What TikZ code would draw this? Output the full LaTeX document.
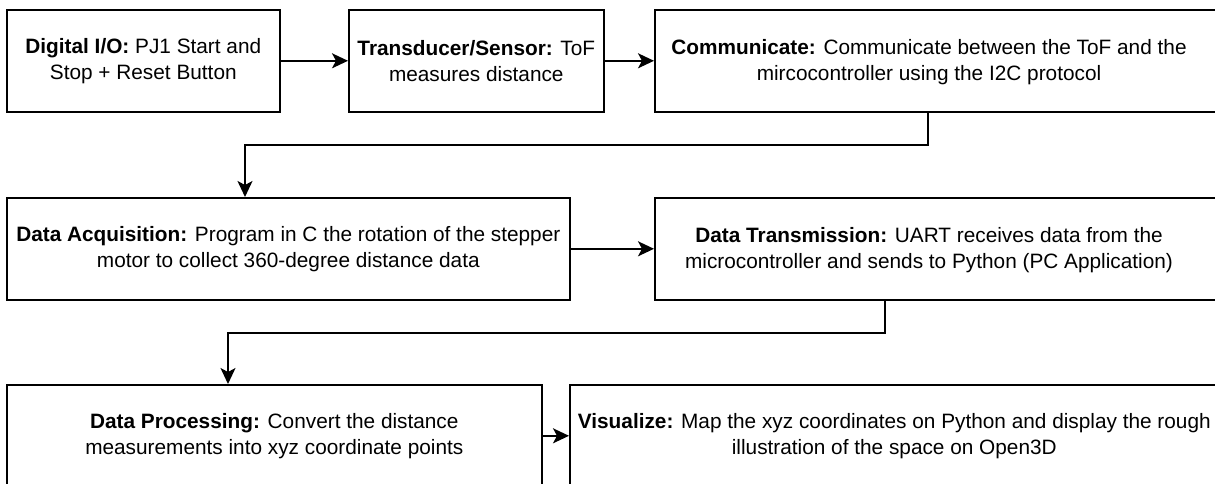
\documentclass[tikz,border=0pt]{standalone}
\usepackage{fontspec}
\setmainfont{Liberation Sans}
\usetikzlibrary{arrows.meta}
\begin{document}
\begin{tikzpicture}[x=1pt,y=-1pt,
  box/.style={draw=black, line width=1.6pt, rectangle, minimum height=102pt, inner sep=0pt, anchor=north west, align=center, font=\fontsize{20.8}{26}\selectfont},
  txt/.style={align=center, inner sep=0pt, font=\fontsize{20.8}{26}\selectfont},
  arr/.style={draw=black, line width=1.6pt, -{Stealth[length=16pt,width=15pt,inset=4pt]}}]
\useasboundingbox (0,0) rectangle (1215,484);
\clip (0,0) rectangle (1215,484);
\node[box, minimum width=273pt] (b1) at (6,9) {\textbf{Digital I/O:} PJ1 Start and\\Stop + Reset Button};
\node[box, minimum width=255pt] (b2) at (348,9) {\textbf{Transducer/Sensor:} ToF\\measures distance};
\node[box, minimum width=570pt] (b3) at (654,9) {};
\node[txt] (t3) at (929,62) {\textbf{Communicate:} Communicate between the ToF and the\\mircocontroller using the I2C protocol};
\node[box, minimum width=563pt] (b4) at (6,197) {\textbf{Data Acquisition:} Program in C the rotation of the stepper\\motor to collect 360-degree distance data};
\node[box, minimum width=570pt] (b5) at (654,197) {};
\node[txt] (t5) at (929,250) {\textbf{Data Transmission:} UART receives data from the\\microcontroller and sends to Python (PC Application)};
\node[box, minimum width=535pt] (b6) at (6,384) {\textbf{Data Processing:} Convert the distance\\measurements into xyz coordinate points};
\node[box, minimum width=649pt] (b7) at (569,384) {\textbf{Visualize:} Map the xyz coordinates on Python and display the rough\\illustration of the space on Open3D};
\coordinate (k1) at (928,145);
\coordinate (k2) at (245,145);
\coordinate (k3) at (885,333);
\coordinate (k4) at (228,333);
\draw[arr] (b1.east) -- (b2.west);
\draw[arr] (b2.east) -- (b3.west);
\draw[arr] (k1 |- b3.south) -- (k1) -- (k2) -- (k2 |- b4.north);
\draw[arr] (b4.east) -- (b5.west);
\draw[arr] (k3 |- b5.south) -- (k3) -- (k4) -- (k4 |- b6.north);
\draw[arr] (b6.east) -- (b7.west);
\end{tikzpicture}
\end{document}
